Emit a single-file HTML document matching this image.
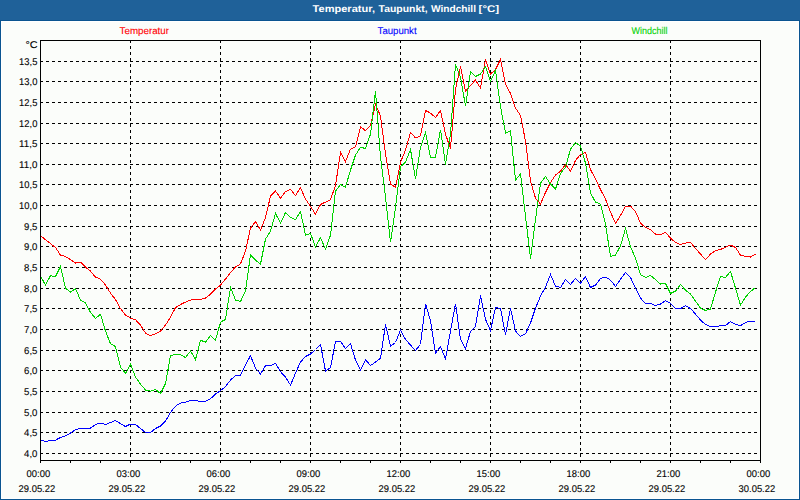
<!DOCTYPE html>
<html lang="de"><head><meta charset="utf-8"><title>Temperatur, Taupunkt, Windchill [°C]</title>
<style>
html,body{margin:0;padding:0;background:#fbfdfa;overflow:hidden}
svg{display:block}
text{font-family:"Liberation Sans","DejaVu Sans",sans-serif;font-size:9.8px;fill:#000;stroke:#000;stroke-width:0.1;text-rendering:geometricPrecision}
.t{font-weight:bold;fill:#fff;stroke:none}
.g{stroke:#000;stroke-width:1;stroke-dasharray:3 3;shape-rendering:crispEdges;fill:none}
.ax{stroke:#000;stroke-width:1;shape-rendering:crispEdges;fill:none}
.s{fill:none;stroke-width:1;shape-rendering:crispEdges;stroke-linejoin:miter}
</style></head><body>
<svg width="800" height="500" viewBox="0 0 800 500">
<rect x="0" y="0" width="800" height="500" fill="#0a5490"/>
<rect x="1" y="21" width="798" height="478" fill="#ffffff"/>
<rect x="2" y="22" width="796" height="476" fill="#fbfdfa"/>
<rect x="0" y="0" width="800" height="20" fill="#1f6199"/>
<text class="t" x="312.6" y="12" textLength="62.4" lengthAdjust="spacingAndGlyphs">Temperatur,</text>
<text class="t" x="378.6" y="12" textLength="49" lengthAdjust="spacingAndGlyphs">Taupunkt,</text>
<text class="t" x="431" y="12" textLength="45" lengthAdjust="spacingAndGlyphs">Windchill</text>
<text class="t" x="478.6" y="12" textLength="20.6" lengthAdjust="spacingAndGlyphs">[°C]</text>
<text x="119.6" y="34" textLength="49.4" lengthAdjust="spacingAndGlyphs" style="fill:#ff0000;stroke:#ff0000">Temperatur</text>
<text x="377.6" y="34" textLength="39" lengthAdjust="spacingAndGlyphs" style="fill:#0000ff;stroke:#0000ff">Taupunkt</text>
<text x="631.4" y="34" textLength="36" lengthAdjust="spacingAndGlyphs" style="fill:#00d200;stroke:#00d200">Windchill</text>
<g class="g">
<line x1="40" y1="61.5" x2="760" y2="61.5"/>
<line x1="40" y1="81.5" x2="760" y2="81.5"/>
<line x1="40" y1="102.5" x2="760" y2="102.5"/>
<line x1="40" y1="123.5" x2="760" y2="123.5"/>
<line x1="40" y1="143.5" x2="760" y2="143.5"/>
<line x1="40" y1="164.5" x2="760" y2="164.5"/>
<line x1="40" y1="184.5" x2="760" y2="184.5"/>
<line x1="40" y1="205.5" x2="760" y2="205.5"/>
<line x1="40" y1="226.5" x2="760" y2="226.5"/>
<line x1="40" y1="246.5" x2="760" y2="246.5"/>
<line x1="40" y1="267.5" x2="760" y2="267.5"/>
<line x1="40" y1="288.5" x2="760" y2="288.5"/>
<line x1="40" y1="308.5" x2="760" y2="308.5"/>
<line x1="40" y1="329.5" x2="760" y2="329.5"/>
<line x1="40" y1="350.5" x2="760" y2="350.5"/>
<line x1="40" y1="370.5" x2="760" y2="370.5"/>
<line x1="40" y1="391.5" x2="760" y2="391.5"/>
<line x1="40" y1="412.5" x2="760" y2="412.5"/>
<line x1="40" y1="432.5" x2="760" y2="432.5"/>
<line x1="40" y1="453.5" x2="760" y2="453.5"/>
<line x1="130.5" y1="40" x2="130.5" y2="460"/>
<line x1="220.5" y1="40" x2="220.5" y2="460"/>
<line x1="310.5" y1="40" x2="310.5" y2="460"/>
<line x1="400.5" y1="40" x2="400.5" y2="460"/>
<line x1="490.5" y1="40" x2="490.5" y2="460"/>
<line x1="580.5" y1="40" x2="580.5" y2="460"/>
<line x1="670.5" y1="40" x2="670.5" y2="460"/>
</g>
<polyline class="s" stroke="#ff0000" points="40.5,235.7 45.5,239.7 50.5,243.6 55.5,247.5 60.5,255.1 65.5,256.5 70.5,259.7 75.5,263.1 80.5,262.1 85.5,267.1 90.5,271.1 95.5,277.1 100.5,279.1 105.5,285.1 110.5,293.1 115.5,299.6 120.5,308.6 125.5,315.1 130.5,318.1 135.5,319.7 140.5,325.1 145.5,333.1 150.5,335.7 155.5,333.7 160.5,331.1 165.5,325.1 170.5,317.1 175.5,307.7 180.5,304.5 185.5,302.1 190.5,300.1 195.5,299.5 200.5,299.5 205.5,298.1 210.5,294.1 215.5,289.1 220.5,285.1 225.5,279.1 230.5,272.5 235.5,267.1 240.5,263.9 245.5,251.1 250.5,228.1 255.5,221.7 260.5,230.1 265.5,217.5 270.5,196.1 275.5,191.1 280.5,198.1 285.5,191.5 290.5,189.5 295.5,195.5 300.5,187.7 305.5,199.1 310.5,206.5 315.5,214.1 320.5,204.5 325.5,202.1 330.5,199.6 335.5,185.6 340.5,152.5 345.5,161.5 350.5,149.1 355.5,146.7 360.5,126.7 365.5,130.7 370.5,125.7 375.5,104.1 380.5,116.1 385.5,154.1 390.5,183.9 395.5,187.3 400.5,162.1 405.5,150.1 410.5,132.3 415.5,137.9 420.5,135.9 425.5,110.5 430.5,113.1 435.5,117.5 440.5,110.5 445.5,134.3 450.5,148.5 455.5,89.1 460.5,66.5 465.5,91.5 470.5,85.5 475.5,80.1 480.5,88.1 485.5,59.5 490.5,74.1 495.5,69.5 500.5,59.5 505.5,84.1 510.5,93.5 515.5,108.1 520.5,115.5 525.5,141.1 530.5,181.1 535.5,198.1 540.5,204.1 545.5,192.5 550.5,182.5 555.5,175.1 560.5,171.1 565.5,164.5 570.5,171.1 575.5,160.5 580.5,154.5 585.5,152.5 590.5,169.5 595.5,179.1 600.5,189.5 605.5,199.1 610.5,212.1 615.5,223.3 620.5,215.5 625.5,206.5 630.5,206.1 635.5,211.5 640.5,223.1 645.5,227.5 650.5,229.5 655.5,234.1 660.5,234.5 665.5,232.5 670.5,238.1 675.5,242.5 680.5,244.5 685.5,243.1 690.5,242.5 695.5,248.5 700.5,254.1 705.5,259.5 710.5,254.1 715.5,250.5 720.5,249.5 725.5,247.1 730.5,245.1 735.5,247.5 740.5,255.1 745.5,256.5 750.5,257.1 755.5,254.1"/>
<polyline class="s" stroke="#0000ff" points="40.5,440.1 45.5,441.5 50.5,440.5 55.5,440.1 60.5,437.5 65.5,435.7 70.5,433.1 75.5,429.5 80.5,428.5 85.5,428.5 90.5,428.1 95.5,424.5 100.5,423.1 105.5,424.5 110.5,422.5 115.5,420.5 120.5,423.7 125.5,426.5 130.5,424.1 135.5,424.5 140.5,428.5 145.5,432.5 150.5,432.5 155.5,428.5 160.5,426.1 165.5,421.1 170.5,412.5 175.5,406.1 180.5,403.1 185.5,402.3 190.5,400.5 195.5,400.5 200.5,401.5 205.5,401.5 210.5,398.7 215.5,394.1 220.5,390.5 225.5,386.6 230.5,380.1 235.5,375.5 240.5,375.1 245.5,365.1 250.5,355.7 255.5,368.1 260.5,374.1 265.5,365.7 270.5,365.7 275.5,363.5 280.5,371.7 285.5,377.1 290.5,385.1 295.5,373.1 300.5,362.1 305.5,356.5 310.5,354.1 315.5,349.5 320.5,344.5 325.5,371.1 330.5,367.7 335.5,341.5 340.5,341.5 345.5,348.5 350.5,343.7 355.5,360.1 360.5,370.1 365.5,359.7 370.5,365.5 375.5,362.1 380.5,358.1 385.5,324.5 390.5,346.1 395.5,342.5 400.5,330.1 405.5,339.5 410.5,345.1 415.5,350.5 420.5,344.5 425.5,303.7 430.5,321.1 435.5,353.1 440.5,346.5 445.5,359.1 450.5,331.1 455.5,303.7 460.5,339.1 465.5,348.5 470.5,331.5 475.5,326.5 480.5,295.5 485.5,319.5 490.5,330.5 495.5,307.5 500.5,308.5 505.5,334.5 510.5,308.5 515.5,331.1 520.5,336.5 525.5,333.7 530.5,323.1 535.5,308.1 540.5,296.1 545.5,287.1 550.5,274.5 555.5,286.1 560.5,287.5 565.5,279.5 570.5,284.5 575.5,278.5 580.5,283.3 585.5,276.5 590.5,287.5 595.5,285.1 600.5,278.5 605.5,277.1 610.5,280.1 615.5,286.5 620.5,279.3 625.5,272.5 630.5,277.5 635.5,288.1 640.5,298.1 645.5,303.5 650.5,303.5 655.5,305.5 660.5,304.1 665.5,300.5 670.5,303.5 675.5,308.5 680.5,308.5 685.5,305.7 690.5,308.5 695.5,314.1 700.5,320.1 705.5,324.5 710.5,326.5 715.5,326.5 720.5,325.7 725.5,325.5 730.5,321.5 735.5,324.5 740.5,325.7 745.5,322.5 750.5,321.1 755.5,321.5"/>
<polyline class="s" stroke="#00d200" points="40.5,276.1 45.5,285.1 50.5,275.7 55.5,276.5 60.5,266.5 65.5,288.1 70.5,292.1 75.5,288.5 80.5,300.1 85.5,302.7 90.5,312.5 95.5,318.3 100.5,314.3 105.5,331.1 110.5,343.7 115.5,346.5 120.5,367.1 125.5,373.5 130.5,364.1 135.5,377.1 140.5,384.1 145.5,390.1 150.5,391.1 155.5,389.5 160.5,393.5 165.5,383.6 170.5,355.7 175.5,354.1 180.5,354.7 185.5,357.6 190.5,351.1 195.5,359.5 200.5,340.3 205.5,342.1 210.5,335.6 215.5,340.1 220.5,322.1 225.5,319.5 230.5,287.5 235.5,300.1 240.5,301.5 245.5,291.1 250.5,254.7 255.5,260.1 260.5,264.1 265.5,239.1 270.5,231.1 275.5,213.5 280.5,223.1 285.5,212.5 290.5,217.5 295.5,219.5 300.5,211.5 305.5,235.1 310.5,233.4 315.5,247.1 320.5,237.7 325.5,249.1 330.5,235.1 335.5,191.1 340.5,184.5 345.5,187.1 350.5,170.1 355.5,155.1 360.5,147.3 365.5,148.5 370.5,134.1 375.5,91.1 380.5,157.1 385.5,197.3 390.5,242.1 395.5,207.6 400.5,166.7 405.5,162.1 410.5,149.5 415.5,179.1 420.5,147.1 425.5,132.5 430.5,157.1 435.5,157.1 440.5,129.7 445.5,164.5 450.5,134.1 455.5,64.5 460.5,77.1 465.5,106.1 470.5,71.5 475.5,76.5 480.5,74.1 485.5,66.5 490.5,81.1 495.5,70.5 500.5,106.6 505.5,133.1 510.5,130.9 515.5,180.1 520.5,174.1 525.5,216.3 530.5,258.5 535.5,219.6 540.5,183.1 545.5,176.5 550.5,184.1 555.5,189.1 560.5,173.5 565.5,167.1 570.5,149.1 575.5,142.5 580.5,146.1 585.5,163.1 590.5,193.1 595.5,202.1 600.5,204.1 605.5,224.3 610.5,256.5 615.5,255.1 620.5,245.9 625.5,228.5 630.5,246.7 635.5,258.1 640.5,274.5 645.5,277.5 650.5,275.5 655.5,279.5 660.5,284.1 665.5,283.5 670.5,293.5 675.5,291.1 680.5,284.5 685.5,290.1 690.5,294.1 695.5,301.1 700.5,308.1 705.5,310.5 710.5,309.1 715.5,292.1 720.5,276.5 725.5,277.5 730.5,271.5 735.5,288.1 740.5,305.1 745.5,297.1 750.5,291.5 755.5,287.5"/>
<rect class="ax" x="40.5" y="40.5" width="720" height="420"/>
<g class="ax">
<line x1="40.5" y1="461" x2="40.5" y2="463"/>
<line x1="70.5" y1="461" x2="70.5" y2="463"/>
<line x1="100.5" y1="461" x2="100.5" y2="463"/>
<line x1="130.5" y1="461" x2="130.5" y2="463"/>
<line x1="160.5" y1="461" x2="160.5" y2="463"/>
<line x1="190.5" y1="461" x2="190.5" y2="463"/>
<line x1="220.5" y1="461" x2="220.5" y2="463"/>
<line x1="250.5" y1="461" x2="250.5" y2="463"/>
<line x1="280.5" y1="461" x2="280.5" y2="463"/>
<line x1="310.5" y1="461" x2="310.5" y2="463"/>
<line x1="340.5" y1="461" x2="340.5" y2="463"/>
<line x1="370.5" y1="461" x2="370.5" y2="463"/>
<line x1="400.5" y1="461" x2="400.5" y2="463"/>
<line x1="430.5" y1="461" x2="430.5" y2="463"/>
<line x1="460.5" y1="461" x2="460.5" y2="463"/>
<line x1="490.5" y1="461" x2="490.5" y2="463"/>
<line x1="520.5" y1="461" x2="520.5" y2="463"/>
<line x1="550.5" y1="461" x2="550.5" y2="463"/>
<line x1="580.5" y1="461" x2="580.5" y2="463"/>
<line x1="610.5" y1="461" x2="610.5" y2="463"/>
<line x1="640.5" y1="461" x2="640.5" y2="463"/>
<line x1="670.5" y1="461" x2="670.5" y2="463"/>
<line x1="700.5" y1="461" x2="700.5" y2="463"/>
<line x1="730.5" y1="461" x2="730.5" y2="463"/>
<line x1="760.5" y1="461" x2="760.5" y2="463"/>
</g>
<text x="25.4" y="48" textLength="12.2" lengthAdjust="spacingAndGlyphs">°C</text>
<text x="19.1" y="65" textLength="18.3" lengthAdjust="spacingAndGlyphs">13,5</text>
<text x="19.1" y="85" textLength="18.3" lengthAdjust="spacingAndGlyphs">13,0</text>
<text x="19.1" y="106" textLength="18.3" lengthAdjust="spacingAndGlyphs">12,5</text>
<text x="19.1" y="127" textLength="18.3" lengthAdjust="spacingAndGlyphs">12,0</text>
<text x="19.1" y="147" textLength="18.3" lengthAdjust="spacingAndGlyphs">11,5</text>
<text x="19.1" y="168" textLength="18.3" lengthAdjust="spacingAndGlyphs">11,0</text>
<text x="19.1" y="188" textLength="18.3" lengthAdjust="spacingAndGlyphs">10,5</text>
<text x="19.1" y="209" textLength="18.3" lengthAdjust="spacingAndGlyphs">10,0</text>
<text x="24.1" y="230" textLength="13.3" lengthAdjust="spacingAndGlyphs">9,5</text>
<text x="24.1" y="250" textLength="13.3" lengthAdjust="spacingAndGlyphs">9,0</text>
<text x="24.1" y="271" textLength="13.3" lengthAdjust="spacingAndGlyphs">8,5</text>
<text x="24.1" y="292" textLength="13.3" lengthAdjust="spacingAndGlyphs">8,0</text>
<text x="24.1" y="312" textLength="13.3" lengthAdjust="spacingAndGlyphs">7,5</text>
<text x="24.1" y="333" textLength="13.3" lengthAdjust="spacingAndGlyphs">7,0</text>
<text x="24.1" y="354" textLength="13.3" lengthAdjust="spacingAndGlyphs">6,5</text>
<text x="24.1" y="374" textLength="13.3" lengthAdjust="spacingAndGlyphs">6,0</text>
<text x="24.1" y="395" textLength="13.3" lengthAdjust="spacingAndGlyphs">5,5</text>
<text x="24.1" y="416" textLength="13.3" lengthAdjust="spacingAndGlyphs">5,0</text>
<text x="24.1" y="436" textLength="13.3" lengthAdjust="spacingAndGlyphs">4,5</text>
<text x="24.1" y="457" textLength="13.3" lengthAdjust="spacingAndGlyphs">4,0</text>
<text x="26.6" y="477" textLength="23.6" lengthAdjust="spacingAndGlyphs">00:00</text>
<text x="18.6" y="492" textLength="36.6" lengthAdjust="spacingAndGlyphs">29.05.22</text>
<text x="116.6" y="477" textLength="23.6" lengthAdjust="spacingAndGlyphs">03:00</text>
<text x="108.6" y="492" textLength="36.6" lengthAdjust="spacingAndGlyphs">29.05.22</text>
<text x="206.6" y="477" textLength="23.6" lengthAdjust="spacingAndGlyphs">06:00</text>
<text x="198.6" y="492" textLength="36.6" lengthAdjust="spacingAndGlyphs">29.05.22</text>
<text x="296.6" y="477" textLength="23.6" lengthAdjust="spacingAndGlyphs">09:00</text>
<text x="288.6" y="492" textLength="36.6" lengthAdjust="spacingAndGlyphs">29.05.22</text>
<text x="386.6" y="477" textLength="23.6" lengthAdjust="spacingAndGlyphs">12:00</text>
<text x="378.6" y="492" textLength="36.6" lengthAdjust="spacingAndGlyphs">29.05.22</text>
<text x="476.6" y="477" textLength="23.6" lengthAdjust="spacingAndGlyphs">15:00</text>
<text x="468.6" y="492" textLength="36.6" lengthAdjust="spacingAndGlyphs">29.05.22</text>
<text x="566.6" y="477" textLength="23.6" lengthAdjust="spacingAndGlyphs">18:00</text>
<text x="558.6" y="492" textLength="36.6" lengthAdjust="spacingAndGlyphs">29.05.22</text>
<text x="656.6" y="477" textLength="23.6" lengthAdjust="spacingAndGlyphs">21:00</text>
<text x="648.6" y="492" textLength="36.6" lengthAdjust="spacingAndGlyphs">29.05.22</text>
<text x="746.6" y="477" textLength="23.6" lengthAdjust="spacingAndGlyphs">00:00</text>
<text x="738.6" y="492" textLength="36.6" lengthAdjust="spacingAndGlyphs">30.05.22</text>
</svg>
</body></html>
